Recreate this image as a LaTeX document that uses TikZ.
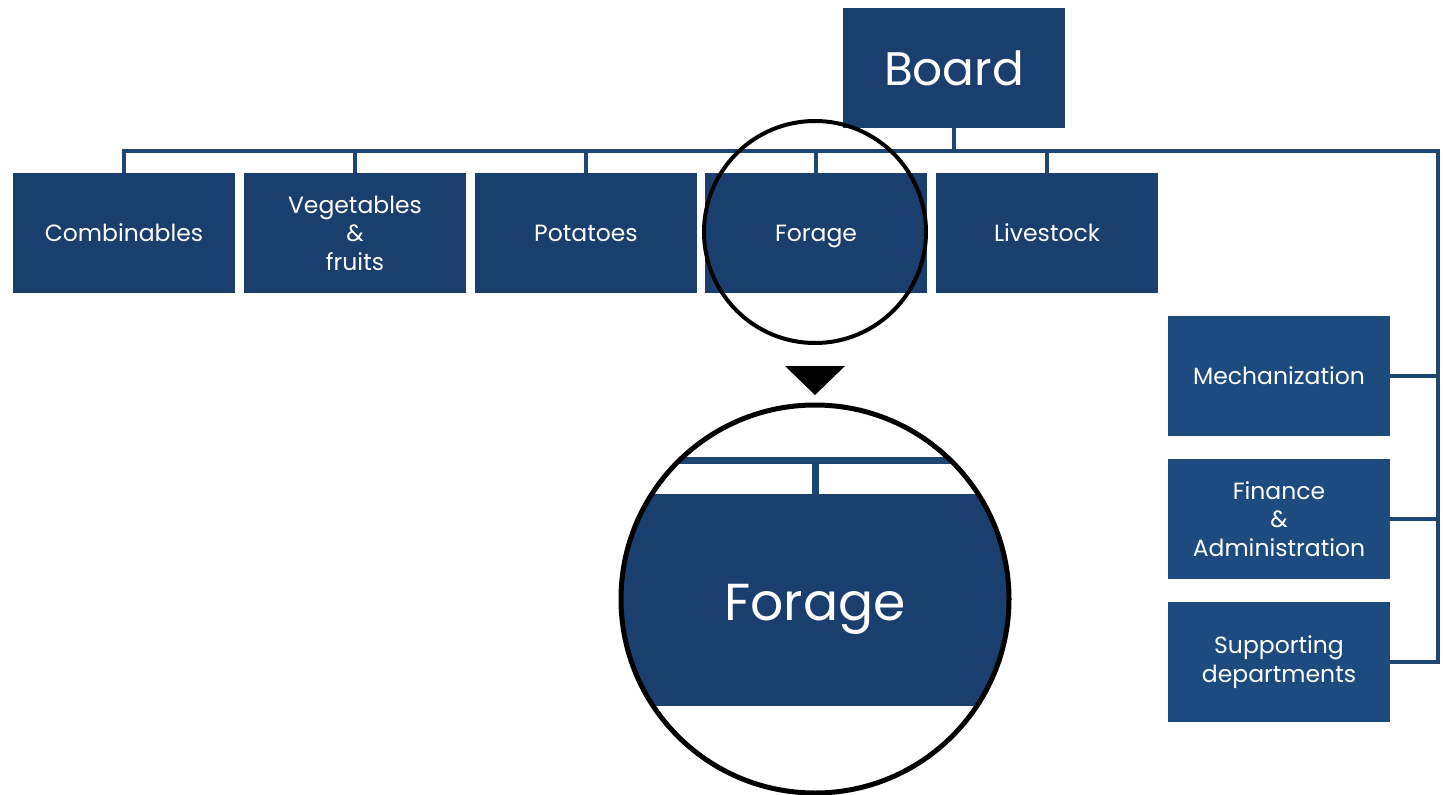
\documentclass[tikz,border=0pt]{standalone}
\usepackage{fontspec}
\setmainfont{Poppins}
\definecolor{boxblue}{HTML}{1A3E6E}
\definecolor{sideblue}{HTML}{1D4A7F}
\definecolor{lineblue}{HTML}{1E4674}
\tikzset{
  orgbox/.style={fill=boxblue, text=white, minimum width=222pt, minimum height=120pt, inner sep=0pt, align=center, font=\fontsize{23.5}{28.5}\selectfont},
  sidebox/.style={orgbox, fill=sideblue},
  conn/.style={draw=lineblue, line width=3.5pt},
  lens/.style={draw=black, line width=4pt, circle, inner sep=0pt},
}
\begin{document}
\begin{tikzpicture}[x=1pt,y=-1pt]
\useasboundingbox (0,0) rectangle (1443,795);
% nodes
\node[orgbox, font=\fontsize{47}{50}\selectfont] (board) at (954,68) {Board};
\node[orgbox] (comb) at (124,233) {Combinables};
\node[orgbox] (veg) at (355,233) {Vegetables\\\&\\fruits};
\node[orgbox] (pot) at (586,233) {Potatoes};
\node[orgbox] (forage) at (816,233) {\smash{\raisebox{-8.5pt}{Forage}}};
\node[orgbox] (live) at (1047,233) {Livestock};
\node[sidebox] (mech) at (1279,376) {Mechanization};
\node[sidebox] (fin) at (1279,519) {Finance\\\&\\Administration};
\node[sidebox] (supp) at (1279,662) {Supporting\\departments};
\coordinate (busR) at (1438,151);
% connectors
\draw[conn] (comb.north) |- (busR) |- (supp.east);
\draw[conn] (board.south) -- (board.south |- busR);
\draw[conn] (veg.north) -- (veg.north |- busR);
\draw[conn] (pot.north) -- (pot.north |- busR);
\draw[conn] (forage.north) -- (forage.north |- busR);
\draw[conn] (live.north) -- (live.north |- busR);
\draw[conn] (mech.east) -- (mech.east -| busR);
\draw[conn] (fin.east) -- (fin.east -| busR);
% small lens
\node[lens, minimum size=222pt] (smalllens) at (815,232) {};
% pointer triangle
\fill[black] (785,366) -- (845,366) -- (815,395) -- cycle;
% magnified view
\begin{scope}
\clip (815,599) circle (194);
\node[orgbox, minimum width=420pt, minimum height=212pt, font=\fontsize{52}{56}\selectfont] (bigforage) at (815,600) {\smash{\raisebox{-20pt}{Forage}}};
\coordinate (bigbus) at (815,460);
\draw[draw=lineblue, line width=7pt] ([xshift=-220pt]bigbus) -- ([xshift=220pt]bigbus);
\draw[draw=lineblue, line width=7pt] (bigforage.north) -- (bigforage.north |- bigbus);
\end{scope}
\node[lens, line width=5pt, minimum size=388pt] (biglens) at (815,599) {};
\end{tikzpicture}
\end{document}
